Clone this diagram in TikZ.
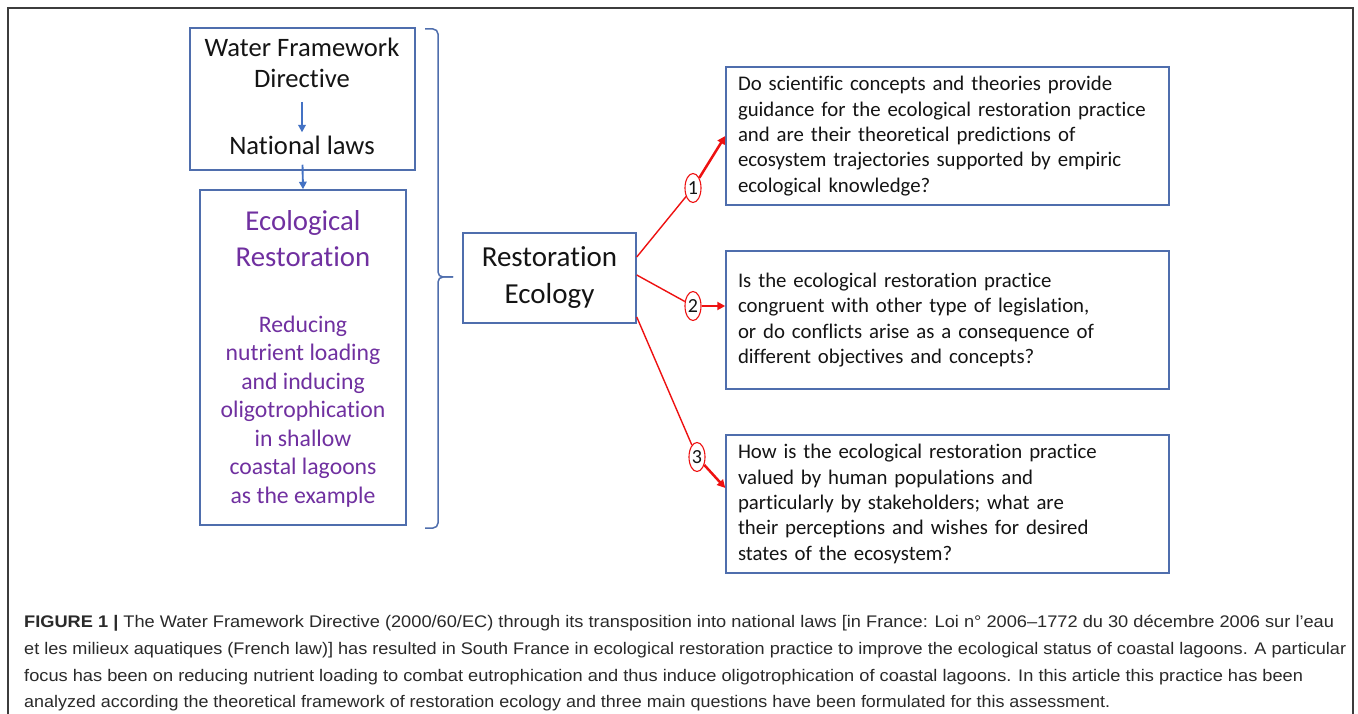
\documentclass[tikz,border=0pt]{standalone}
\usepackage{fontspec}
\usepackage{graphicx}
\setmainfont{Carlito}[Ligatures=NoCommon]
\newfontfamily\capfont{Liberation Sans}
\usetikzlibrary{shapes.geometric,arrows.meta,calc}
\definecolor{boxblue}{HTML}{4F6EAD}
\definecolor{arrblue}{HTML}{4472C4}
\definecolor{purp}{HTML}{7030A0}
\definecolor{redc}{HTML}{EE1111}
\definecolor{framegray}{HTML}{3C3C3C}
\definecolor{txt}{HTML}{141414}
\definecolor{captxt}{HTML}{2A2A2A}
\begin{document}
\begin{tikzpicture}[x=1pt,y=-1pt,
  box/.style={draw=boxblue,line width=1.5pt,inner sep=0pt},
  ttext/.style={inner sep=0pt,anchor=base,text=txt},
  ptext/.style={inner sep=0pt,anchor=base,text=purp},
  barrow/.style={draw=arrblue,line width=1.9pt,-{Triangle[length=7.5pt,width=7.5pt]}},
  rline/.style={draw=redc,line width=1.4pt},
  rarrow/.style={draw=redc,line width=2.5pt,-{Triangle[length=8pt,width=8pt]}},
  numel/.style={ellipse,draw=redc,line width=1.1pt,minimum width=16pt,minimum height=29pt,inner sep=0pt,font=\fontsize{20}{20}\selectfont,text=txt},
  qbox/.style={box,text width=419pt,inner xsep=12pt,minimum height=138pt,align=left,font=\fontsize{20.8}{25.3}\selectfont,text=txt},
  capline/.style={inner sep=0pt,anchor=base west,font=\capfont\fontsize{16.8}{20}\selectfont,text=captxt}]
\useasboundingbox (0,0) rectangle (1358,714);
\fill[white] (0,0) rectangle (1358,714);
% outer frame
\draw[framegray,line width=1.8pt] (8,716) -- (8,8) -- (1353,8) -- (1353,716);

% left column
\node[box,minimum width=225pt,minimum height=142pt] (wfd) at (302.5,99) {};
\node[ttext,font=\fontsize{26.6}{31}\selectfont] (wf1) at (302,57) {Water Framework};
\node[ttext,font=\fontsize{26.6}{31}\selectfont] (wf2) at (302,88) {Directive};
\node[ttext,font=\fontsize{26.6}{31}\selectfont] (nat) at (302,155) {National laws};
\draw[barrow] ([yshift=-14pt]wf2.base) -- ([yshift=4pt]nat.north);

\node[box,minimum width=206pt,minimum height=335pt] (eco) at (303,357.5) {};
\draw[barrow] ([yshift=6pt]wfd.south) -- (eco.north);
\node[ptext,font=\fontsize{28.8}{36}\selectfont] (et1) at (303,231) {Ecological};
\node[ptext,font=\fontsize{28.8}{36}\selectfont] (et2) at (303,266) {Restoration};
\foreach \t [count=\i] in {Reducing,nutrient loading,and inducing,oligotrophication,in shallow,coastal lagoons,as the example}
  \node[ptext,font=\fontsize{23.7}{28.5}\selectfont] (eb\i) at (303,{332+28.5*(\i-1)}) {\t};

% bracket
\draw[boxblue,line width=1.5pt,rounded corners=5pt] (425,29) -| (438,277) -- (453,277);
\draw[boxblue,line width=1.5pt,rounded corners=5pt] (453,277) -- (438,277) |- (425,528);

% restoration ecology
\node[box,minimum width=173pt,minimum height=90pt] (re) at (549.5,278) {};
\node[ttext,font=\fontsize{29}{37}\selectfont] (re1) at (549.5,267) {Restoration};
\node[ttext,font=\fontsize{29}{37}\selectfont] (re2) at (549.5,304) {Ecology};

% question boxes
\node[qbox] (q1) at (947.5,136) {Do scientific concepts and theories provide\\guidance for the ecological restoration practice\\and are their theoretical predictions of\\ecosystem trajectories supported by empiric\\ecological knowledge?};
\node[qbox] (q2) at (947.5,320) {Is the ecological restoration practice\\congruent with other type of legislation,\\or do conflicts arise as a consequence of\\different objectives and concepts?};
\node[qbox] (q3) at (947.5,504) {How is the ecological restoration practice\\valued by human populations and\\particularly by stakeholders; what are\\their perceptions and wishes for desired\\states of the ecosystem?};

% numbered connectors
\node[numel] (n1) at (693,188) {1};
\node[numel] (n2) at (693,306) {2};
\node[numel] (n3) at (697,457) {3};
\draw[rline] ([yshift=21pt]re.east) -- (n1);
\draw[rline] ([yshift=3pt]re.east) -- (n2);
\draw[rline] ([yshift=-39pt]re.east) -- (n3);
\draw[rarrow] (n1) -- (q1.west);
\draw[rarrow] (n2) -- ([yshift=14pt]q2.west);
\draw[rarrow] (n3) -- ([yshift=16pt]q3.west);

% caption
\node[capline] (c1) at (24,627) {\resizebox{1310pt}{\height}{\textbf{FIGURE 1 |} The Water Framework Directive (2000/60/EC) through its transposition into national laws [in France: Loi n° 2006–1772 du 30 décembre 2006 sur l’eau}};
\node[capline] (c2) at (24,654) {\resizebox{1322pt}{\height}{et les milieux aquatiques (French law)] has resulted in South France in ecological restoration practice to improve the ecological status of coastal lagoons. A particular}};
\node[capline] (c3) at (24,681) {\resizebox{1279pt}{\height}{focus has been on reducing nutrient loading to combat eutrophication and thus induce oligotrophication of coastal lagoons. In this article this practice has been}};
\node[capline] (c4) at (24,707) {\resizebox{1086pt}{\height}{analyzed according the theoretical framework of restoration ecology and three main questions have been formulated for this assessment.}};
\end{tikzpicture}
\end{document}
